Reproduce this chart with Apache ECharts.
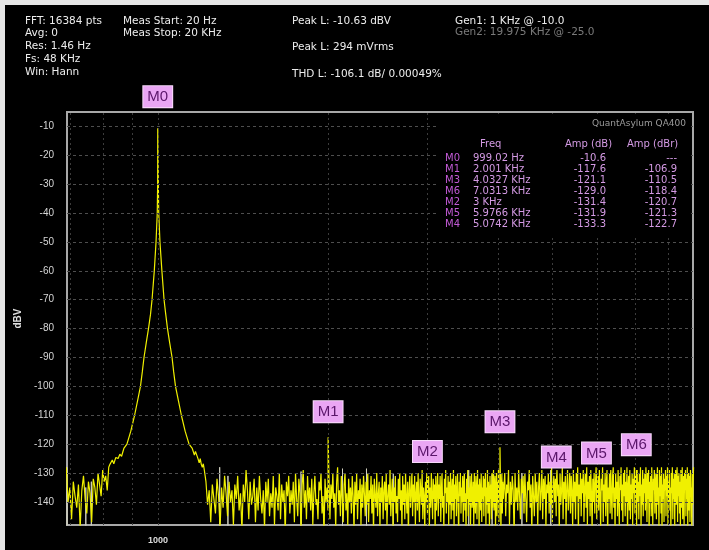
<!DOCTYPE html>
<html>
<head>
<meta charset="utf-8">
<title>QA400 FFT</title>
<script src="https://cdn.jsdelivr.net/npm/echarts@6/dist/echarts.min.js"></script>
<style>
  html, body { margin: 0; padding: 0; background: #e6e6e6; overflow: hidden; }
  #panel { position: absolute; left: 5px; top: 5px; right: 0; bottom: 0; background: #000; }
  #chart { position: absolute; left: 0; top: 0; width: 709px; height: 550px; }
</style>
</head>
<body>
<div id="panel"></div>
<div id="chart"></div>
<script>
// ---- axis settings ----
const yTicks = [-10, -20, -30, -40, -50, -60, -70, -80, -90, -100, -110, -120, -130, -140];
const xTickLabels = [1000];
const xGridHz = [700, 800, 900, 1000, 2000, 3000, 4000, 5000, 6000, 7000, 8000];

// ---- left channel spectrum (dBV) ----
// noise floor below the fundamental
const lowFloorStartHz = 688;
const lowFloorStepHz = 5;
const lowFloorDbv = [-128, -140, -135, -146, -133, -138, -142, -134, -149, -136, -131, -139, -144, -133,
  -137, -147, -132, -135, -141, -130, -134, -138, -129, -133, -131, -136, -128];

// skirt of the 1 kHz fundamental (the peak bin itself is marker M0)
const skirtHz = [822, 830, 835, 842, 850, 856, 862, 870, 881, 895, 909, 920, 931, 938, 944.5, 953, 962, 970,
  976, 985, 992, 997, 998.6, 1001.4, 1003, 1008, 1016, 1025, 1032, 1039.5, 1049, 1059, 1066, 1074, 1087,
  1100, 1117, 1135, 1150, 1160, 1165, 1177, 1183, 1188, 1193, 1198, 1203, 1209];
const skirtDbv = [-127, -125.5, -126.8, -124.6, -125, -123.5, -124.2, -121.5, -120, -115.5, -110, -105, -100, -95,
  -90, -85, -80, -75, -70, -60, -50, -40, -30, -30, -40, -50, -60, -70, -75, -80, -85, -90, -95, -100, -105,
  -110, -115.5, -120, -121.5, -123.8, -122.5, -125, -126.5, -125, -127, -128, -126.8, -129.5];

// noise floor 1.2 kHz .. 4.1 kHz, one value per 8 Hz
const floorAStartHz = 1216;
const floorAStepHz = 8;
const floorADbv = [
  -133, -141, -136, -147, -134, -139, -144, -132, -138, -149, -135, -142, -131, -137, -145, -133, -140, -136, -148, -134,
  -139, -131, -143, -137, -150, -134, -140, -129, -136, -146, -133, -141, -138, -132, -147, -135, -143, -131, -139, -144,
  -136, -149, -133, -140, -132, -145, -137, -142, -131, -148, -135, -138, -143, -130, -146, -134, -140, -136, -151, -133,
  -138, -131, -144, -136, -141, -133, -147, -130, -139, -145, -132, -137, -150, -134, -129, -142, -136, -146, -131, -140,
  -135, -143, -132, -148, -137, -131, -141, -139, -146, -133, -136, -130, -144, -138, -152, -132, -140, -135, -143, -131,
  -146, -134, -139, -130, -142, -137, -149, -133, -128, -141, -136, -145, -131, -139, -147, -134, -130, -143, -137, -148,
  -132, -140, -135, -144, -131, -138, -150, -133, -141, -130, -146, -136, -139, -132, -148, -134, -142, -131, -137, -145,
  -133, -141, -130, -147, -136, -139, -131, -144, -134, -151, -132, -138, -142, -130, -145, -137, -133, -149, -135, -140,
  -131, -146, -136, -133, -143, -130, -148, -138, -134, -141, -129, -145, -137, -132, -150, -135, -140, -131, -144, -138,
  -147, -132, -139, -130, -143, -136, -149, -131, -141, -134, -146, -130, -138, -144, -133, -152, -136, -131, -142, -137,
  -130, -145, -134, -140, -131, -148, -137, -133, -143, -130, -139, -147, -132, -136, -141, -129, -146, -135, -138, -150,
  -133, -140, -130, -144, -137, -131, -149, -135, -142, -130, -138, -146, -132, -139, -134, -151, -131, -143, -136, -130,
  -145, -134, -139, -131, -147, -136, -130, -142, -138, -150, -132, -137, -129, -144, -135, -140, -131, -148, -133, -141,
  -130, -146, -136, -132, -143, -129, -149, -134, -139, -131, -145, -137, -130, -141, -152, -133, -138, -130, -144, -135,
  -140, -131, -147, -134, -130, -143, -137, -150, -132, -139, -129, -145, -135, -141, -131, -148, -136, -130, -142, -138,
  -133, -149, -130, -138, -144, -131, -136, -146, -129, -140, -134, -151, -132, -137, -143, -130, -147, -135, -139, -131,
  -145, -132, -138, -130, -148, -135, -141, -129, -144, -133, -137, -150, -131, -139, -134, -146, -130, -142, -136, -129,
  -143, -134, -131, -149, -137, -130, -145, -133, -140, -129, -147, -135, -138, -131, -152, -136, -130, -144, -133, -139
];

// noise floor 4.1 kHz .. 8.9 kHz, one value per 16 Hz
const floorBStartHz = 4096;
const floorBStepHz = 16;
const floorBDbv = [
  -139, -130, -145, -134, -137, -129, -148, -133, -141, -131, -136, -152, -130, -140, -135, -143, -129, -138, -146, -132,
  -137, -131, -144, -130, -139, -147, -133, -136, -129, -142, -134, -150, -131, -138, -145, -130, -140, -133, -148, -135,
  -130, -143, -136, -129, -146, -132, -139, -131, -149, -134, -137, -130, -144, -133, -141, -128, -147, -135, -131, -140,
  -132, -145, -129, -138, -134, -150, -130, -141, -136, -128, -146, -133, -139, -131, -148, -135, -129, -143, -137, -130,
  -144, -131, -136, -149, -129, -140, -133, -146, -130, -138, -128, -151, -134, -139, -130, -145, -132, -137, -129, -147,
  -135, -130, -142, -128, -148, -133, -139, -131, -145, -129, -137, -150, -132, -140, -130, -144, -134, -128, -146, -136,
  -131, -143, -129, -138, -149, -132, -136, -128, -147, -134, -140, -130, -145, -133, -129, -152, -135, -139, -130, -144,
  -129, -137, -146, -131, -128, -142, -135, -150, -130, -139, -133, -145, -129, -138, -148, -131, -136, -128, -143, -134,
  -147, -130, -138, -129, -145, -133, -140, -128, -151, -135, -131, -143, -129, -146, -134, -139, -130, -148, -132, -137,
  -128, -144, -131, -136, -149, -129, -140, -133, -146, -130, -138, -128, -150, -134, -141, -129, -145, -132, -137, -130,
  -143, -128, -135, -147, -130, -139, -129, -152, -133, -140, -131, -145, -128, -137, -148, -132, -136, -129, -144, -134,
  -130, -146, -133, -128, -141, -135, -149, -129, -138, -131, -144, -128, -150, -134, -139, -130, -147, -132, -136, -129,
  -145, -131, -138, -128, -148, -133, -140, -129, -143, -135, -151, -130, -137, -128, -146, -132, -139, -130, -149, -134,
  -129, -141, -136, -128, -147, -131, -138, -130, -144, -133, -150, -129, -137, -142, -128, -146, -135, -131, -148, -130,
  -136, -129, -145, -132, -139, -128, -149, -134, -130, -143, -131, -147, -129, -138, -135, -150, -130, -141, -133, -128
];

// ---- right channel (grey) lines that show through the yellow trace ----
const rightChHz = [690, 745, 762, 1286, 1330, 1792, 2122, 2340, 2610, 3550, 3905, 4410, 4960];
const rightChTopDbv = [-128, -135, -133, -128, -131, -129.5, -128.5, -128.5, -130, -129, -130.5, -130, -129];

// ---- markers ----
const markerNames = ['M0', 'M1', 'M2', 'M3', 'M4', 'M5', 'M6'];
const markerHz = [999.02, 2001, 3000, 4032.7, 5074.2, 5976.6, 7031.3];
const markerDbv = [-10.6, -117.6, -131.4, -121.1, -133.3, -131.9, -129.0];
const markerFreqText = ['999.02 Hz', '2.001 KHz', '3 KHz', '4.0327 KHz', '5.0742 KHz', '5.9766 KHz', '7.0313 KHz'];
const markerDbrText = ['---', '-106.9', '-120.7', '-110.5', '-122.7', '-121.3', '-118.4'];

// ---- status header ----
const headerLines = [
  ['FFT: 16384 pts', 25, 21], ['Avg: 0', 25, 33], ['Res: 1.46 Hz', 25, 46], ['Fs: 48 KHz', 25, 59], ['Win: Hann', 25, 72],
  ['Meas Start: 20 Hz', 123, 21], ['Meas Stop: 20 KHz', 123, 33],
  ['Peak L: -10.63 dBV', 292, 21], ['Peak L: 294 mVrms', 292, 47], ['THD L: -106.1 dB/ 0.00049%', 292, 74],
  ['Gen1: 1 KHz @ -10.0', 455, 21]
];
const headerDimLines = [['Gen2: 19.975 KHz @ -25.0', 455, 32]];

// build the yellow trace: floors + skirt + marker bins, sorted by frequency
const trace = [];
lowFloorDbv.forEach((v, i) => trace.push([lowFloorStartHz + i * lowFloorStepHz, v]));
skirtHz.forEach((f, i) => trace.push([f, skirtDbv[i]]));
floorADbv.forEach((v, i) => trace.push([floorAStartHz + i * floorAStepHz, v]));
floorBDbv.forEach((v, i) => trace.push([floorBStartHz + i * floorBStepHz, v]));
markerHz.forEach((f, i) => trace.push([f, markerDbv[i]]));
trace.sort((a, b) => a[0] - b[0]);

// grey right-channel lines drawn from below the plot floor up to their top
const rightTrace = [];
rightChHz.forEach((f, i) => {
  rightTrace.push([f, -155], [f, rightChTopDbv[i]], [f, -155]);
});

const FONT = '"Liberation Sans", Arial, sans-serif';
const WIDE = '"DejaVu Sans", Verdana, sans-serif';

const graphics = [];
function txt(t, x, y, color, font, align) {
  graphics.push({
    type: 'text', x, y, z: 101,
    style: { text: t, fill: color, font: font, textAlign: align, textVerticalAlign: 'middle', align: align, verticalAlign: 'middle' }
  });
}
headerLines.forEach(([t, x, y]) => txt(t, x, y, '#ededed', '10.5px ' + WIDE, 'left'));
headerDimLines.forEach(([t, x, y]) => txt(t, x, y, '#7a7a7a', '10.5px ' + WIDE, 'left'));

// marker table panel
graphics.push({ type: 'rect', z: 100, shape: { x: 438, y: 114, width: 253, height: 123 }, style: { fill: '#000' } });
txt('QuantAsylum QA400', 686, 124, '#9a9a9a', '9px ' + WIDE, 'right');
const TBL = '10px ' + WIDE;
const tblColor = '#d49ae4';
txt('Freq', 480, 144, tblColor, TBL, 'left');
txt('Amp (dB)', 565, 144, tblColor, TBL, 'left');
txt('Amp (dBr)', 627, 144, tblColor, TBL, 'left');
const tableOrder = markerNames.map((_, i) => i).sort((a, b) => markerDbv[b] - markerDbv[a]);
tableOrder.forEach((m, row) => {
  const y = 158 + row * 11;
  txt(markerNames[m], 445, y, '#c25ad6', TBL, 'left');
  txt(markerFreqText[m], 473, y, tblColor, TBL, 'left');
  txt(markerDbv[m].toFixed(1), 606, y, tblColor, TBL, 'right');
  txt(markerDbrText[m], 677, y, tblColor, TBL, 'right');
});

const chart = echarts.init(document.getElementById('chart'), null, { renderer: 'canvas' });
chart.setOption({
  backgroundColor: 'transparent',
  animation: false,
  textStyle: { fontFamily: FONT },
  grid: {
    left: 67, top: 112, width: 626, height: 413,
    show: true, borderColor: '#a8a8a8', borderWidth: 2, backgroundColor: 'transparent'
  },
  xAxis: {
    type: 'log', logBase: 10, min: 690, max: 8860,
    axisLine: { show: false }, axisTick: { show: false }, splitLine: { show: false },
    axisLabel: {
      customValues: xTickLabels, color: '#dcdcdc', fontSize: 9, fontWeight: 'bold', margin: 11,
      formatter: v => String(Math.round(v))
    }
  },
  yAxis: {
    type: 'value', min: -148, max: -5,
    name: 'dBV', nameLocation: 'middle', nameGap: 39, nameRotate: 90,
    nameTextStyle: { color: '#e0e0e0', fontSize: 10, fontWeight: 'bold' },
    axisLine: { show: false }, axisTick: { show: false }, splitLine: { show: false },
    axisLabel: { customValues: yTicks, color: '#d6d6d6', fontSize: 10, margin: 13 }
  },
  graphic: { elements: graphics },
  series: [
    {
      type: 'line', data: [], z: 1, silent: true,
      markLine: {
        silent: true, symbol: 'none', animation: false, label: { show: false },
        data: [
          ...yTicks.map(v => ({ yAxis: v, lineStyle: { color: '#4e4e4e', width: 1, type: [3, 3] } })),
          ...xGridHz.map(v => ({ xAxis: v, lineStyle: { color: '#3c3c3c', width: 1, type: [2, 3] } }))
        ]
      }
    },
    {
      name: 'R', type: 'line', data: rightTrace, showSymbol: false, z: 2, silent: true,
      lineStyle: { color: '#cfcfbf', width: 1 }
    },
    {
      name: 'L', type: 'line', data: trace, showSymbol: false, z: 3, silent: true, sampling: false,
      lineStyle: { color: '#f0f000', width: 1.2 }
    },
    {
      name: 'Markers', type: 'scatter', z: 5, silent: true, symbolSize: 0,
      itemStyle: { color: '#e7a5f2', opacity: 1 },
      label: {
        show: true, position: 'top', distance: 15, formatter: p => p.name, opacity: 1,
        backgroundColor: '#eaa6f4', color: '#5a166a', fontSize: 15, lineHeight: 16,
        padding: [3, 4, 2, 4], borderColor: '#f8dcfb', borderWidth: 1, fontFamily: FONT
      },
      data: markerNames.map((n, i) => ({
        name: n, value: [markerHz[i], markerDbv[i]],
        label: i === 0 ? { distance: 21 } : undefined
      }))
    }
  ]
});
</script>
</body>
</html>
